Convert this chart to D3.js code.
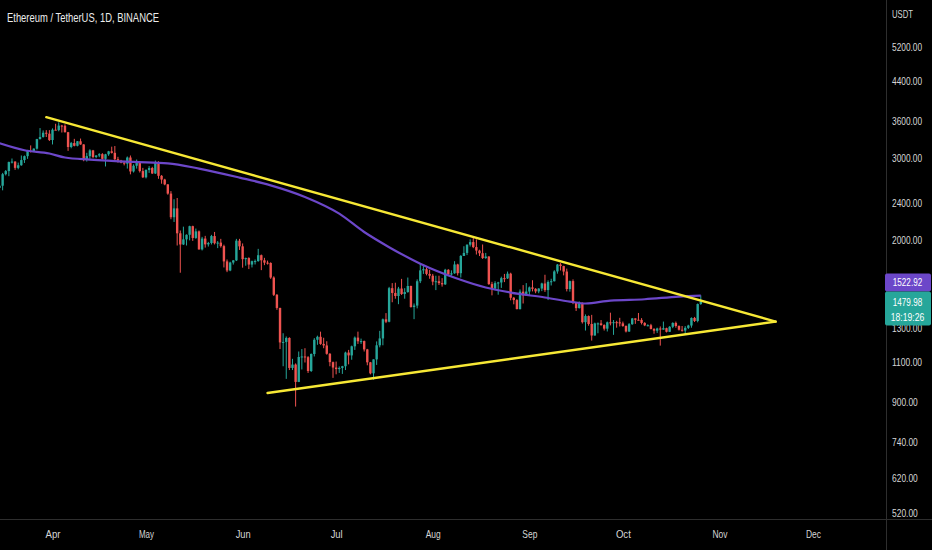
<!DOCTYPE html>
<html>
<head>
<meta charset="utf-8">
<script src="https://cdn.jsdelivr.net/npm/d3@7"></script>
<style>
body { margin: 0; background: #000; overflow: hidden; }
svg { display: block; }
</style>
</head>
<body>
<svg class="chart" width="932" height="550"></svg>
<script>

// daily candles ETH/USDT 2022, [day, open, high, low, close]
var mar = [
	[14,2517,2605,2505,2591],[15,2591,2655,2523,2619],[16,2619,2790,2560,2772],[17,2772,2830,2755,2815],
	[18,2815,2950,2745,2943],[19,2943,2995,2923,2950],[20,2950,2955,2832,2860],[21,2860,2935,2840,2897],
	[22,2897,3040,2890,2972],[23,2972,3040,2930,3030],[24,3030,3125,2990,3109],[25,3109,3195,3085,3107],
	[26,3107,3150,3100,3144],[27,3144,3300,3130,3296],[28,3296,3480,3290,3330],[29,3330,3440,3320,3401],
	[30,3401,3445,3330,3385],[31,3385,3445,3265,3281]
];
var apr = [
	[1,3281,3475,3210,3452],[2,3452,3555,3445,3445],[3,3445,3580,3425,3523],[4,3523,3535,3405,3520],
	[5,3520,3545,3405,3410],[6,3410,3415,3110,3170],[7,3170,3250,3150,3232],[8,3232,3300,3180,3189],
	[9,3189,3265,3180,3261],[10,3261,3305,3205,3210],[11,3210,3215,2955,2980],[12,2980,3080,2950,3030],
	[13,3030,3135,2990,3117],[14,3117,3125,3000,3018],[15,3018,3045,3000,3040],[16,3040,3075,3015,3060],
	[17,3060,3075,2980,2990],[18,2990,3065,2880,3058],[19,3058,3110,3035,3103],[20,3103,3175,3070,3080],
	[21,3080,3185,2945,2985],[22,2985,3020,2935,2965],[23,2965,2975,2925,2935],[24,2935,2960,2895,2920],
	[25,2920,3025,2850,3010],[26,3010,3040,2770,2810],[27,2810,2910,2795,2890],[28,2890,2980,2850,2935],
	[29,2935,2950,2795,2815],[30,2815,2860,2720,2730]
];
var may = [
	[1,2730,2840,2715,2830],[2,2830,2885,2790,2858],[3,2858,2875,2775,2782],[4,2782,2965,2775,2940],
	[5,2940,2955,2710,2750],[6,2750,2760,2645,2700],[7,2700,2710,2625,2636],[8,2636,2640,2505,2519],
	[9,2519,2550,2220,2242],[10,2242,2450,2190,2342],[11,2342,2465,1950,2071],[12,2071,2100,1705,1960],
	[13,1960,2140,1955,2010],[14,2010,2060,1950,2056],[15,2056,2150,2000,2145],[16,2145,2150,1995,2024],
	[17,2024,2120,2015,2091],[18,2091,2100,1910,1913],[19,1913,2035,1903,2018],[20,2018,2045,1930,1961],
	[21,1961,1985,1940,1974],[22,1974,2055,1960,2043],[23,2043,2085,1960,1972],[24,1972,1993,1925,1978],
	[25,1978,2015,1930,1944],[26,1944,1958,1750,1803],[27,1803,1820,1710,1724],[28,1724,1800,1718,1793],
	[29,1793,1815,1775,1812],[30,1812,2015,1806,1997],[31,1997,2015,1908,1942]
];
var jun = [
	[1,1942,1970,1748,1823],[2,1823,1837,1765,1833],[3,1833,1840,1736,1775],[4,1775,1810,1750,1805],
	[5,1805,1820,1776,1806],[6,1806,1918,1800,1859],[7,1859,1865,1727,1813],[8,1813,1835,1770,1792],
	[9,1792,1810,1775,1789],[10,1789,1795,1654,1665],[11,1665,1675,1520,1529],[12,1529,1535,1420,1433],
	[13,1433,1435,1170,1209],[14,1209,1265,1075,1212],[15,1212,1245,1010,1236],[16,1236,1240,1055,1066],
	[17,1066,1115,1055,1084],[18,1084,1090,881,995],[19,995,1156,994,1125],[20,1125,1170,1058,1128],
	[21,1128,1175,1095,1124],[22,1124,1130,1040,1050],[23,1050,1145,1045,1142],[24,1142,1235,1128,1225],
	[25,1225,1250,1195,1243],[26,1243,1275,1195,1200],[27,1200,1237,1175,1191],[28,1191,1216,1138,1143],
	[29,1143,1147,1075,1097],[30,1097,1100,1015,1068]
];
var jul = [
	[1,1068,1100,1033,1060],[2,1060,1074,1040,1066],[3,1066,1077,1035,1075],[4,1075,1155,1055,1150],
	[5,1150,1165,1085,1134],[6,1134,1190,1110,1186],[7,1186,1245,1165,1238],[8,1238,1275,1200,1216],
	[9,1216,1232,1200,1217],[10,1217,1220,1156,1168],[11,1168,1171,1080,1096],[12,1096,1098,1033,1038],
	[13,1038,1112,1006,1112],[14,1112,1215,1082,1192],[15,1192,1280,1180,1233],[16,1233,1360,1192,1355],
	[17,1355,1397,1330,1339],[18,1339,1590,1335,1580],[19,1580,1620,1474,1543],[20,1543,1623,1500,1520],
	[21,1520,1590,1460,1577],[22,1577,1654,1528,1535],[23,1535,1580,1500,1550],[24,1550,1665,1545,1597],
	[25,1597,1600,1435,1440],[26,1440,1465,1356,1450],[27,1450,1650,1430,1635],[28,1635,1787,1620,1725],
	[29,1725,1765,1695,1735],[30,1735,1750,1683,1695],[31,1695,1730,1655,1680]
];
var aug = [
	[1,1680,1695,1603,1632],[2,1632,1680,1565,1635],[3,1635,1680,1605,1620],[4,1620,1660,1592,1610],
	[5,1610,1738,1605,1730],[6,1730,1735,1690,1690],[7,1690,1725,1681,1700],[8,1700,1805,1696,1776],
	[9,1776,1782,1682,1701],[10,1701,1860,1665,1852],[11,1852,1943,1852,1880],[12,1880,1960,1860,1958],
	[13,1958,2010,1940,1983],[14,1983,2030,1925,1935],[15,1935,2010,1865,1902],[16,1902,1910,1851,1877],
	[17,1877,1960,1825,1833],[18,1833,1880,1826,1847],[19,1847,1850,1606,1612],[20,1612,1630,1525,1577],
	[21,1577,1635,1564,1620],[22,1620,1630,1530,1625],[23,1625,1672,1582,1660],[24,1660,1695,1628,1658],
	[25,1658,1715,1653,1697],[26,1697,1705,1488,1507],[27,1507,1513,1459,1490],[28,1490,1497,1423,1425],
	[29,1425,1570,1422,1553],[30,1553,1604,1465,1525],[31,1525,1620,1520,1554]
];
var sep = [
	[1,1554,1593,1528,1586],[2,1586,1643,1555,1575],[3,1575,1580,1541,1555],[4,1555,1580,1541,1577],
	[5,1577,1623,1557,1617],[6,1617,1688,1551,1565],[7,1565,1642,1490,1629],[8,1629,1655,1601,1635],
	[9,1635,1726,1633,1716],[10,1716,1780,1697,1775],[11,1775,1788,1724,1762],[12,1762,1765,1683,1715],
	[13,1715,1740,1555,1573],[14,1573,1640,1553,1636],[15,1636,1650,1460,1473],[16,1473,1475,1412,1432],
	[17,1432,1480,1429,1470],[18,1470,1472,1327,1336],[19,1336,1388,1282,1377],[20,1377,1381,1313,1324],
	[21,1324,1385,1220,1251],[22,1251,1333,1250,1328],[23,1328,1334,1265,1328],[24,1328,1350,1313,1317],
	[25,1317,1322,1282,1294],[26,1294,1340,1276,1335],[27,1335,1400,1315,1330],[28,1330,1350,1255,1336],
	[29,1336,1345,1300,1335],[30,1335,1365,1308,1328]
];
var oct = [
	[1,1328,1340,1306,1311],[2,1311,1315,1270,1276],[3,1276,1330,1273,1323],[4,1323,1364,1318,1361],
	[5,1361,1362,1325,1352],[6,1352,1398,1348,1351],[7,1351,1363,1321,1331],[8,1331,1336,1310,1315],
	[9,1315,1322,1309,1316],[10,1316,1325,1289,1292],[11,1292,1297,1262,1281],[12,1281,1300,1267,1295],
	[13,1295,1308,1190,1288],[14,1288,1340,1287,1297],[15,1297,1300,1270,1274],[16,1274,1310,1273,1306],
	[17,1306,1335,1297,1331],[18,1331,1340,1300,1311],[19,1311,1315,1282,1287],[20,1287,1311,1275,1282],
	[21,1282,1310,1255,1299],[22,1299,1319,1292,1314],[23,1314,1368,1300,1364],[24,1364,1371,1337,1344],
	[25,1344,1465,1335,1461],[26,1461,1525,1455,1480]
];

// moving average (purple)
var maDates = ["2022-03-14","2022-03-23","2022-03-31","2022-04-05","2022-04-13","2022-04-27","2022-05-08",
	"2022-05-18","2022-05-31","2022-06-10","2022-06-21","2022-07-02","2022-07-10","2022-07-18","2022-07-28",
	"2022-08-09","2022-08-18","2022-08-26","2022-09-06","2022-09-14","2022-09-19","2022-09-27","2022-10-08",
	"2022-10-19","2022-10-26"];
var maValues = [3245,3120,3070,3010,2980,2945,2925,2850,2726,2624,2478,2282,2084,1934,1783,
	1655,1585,1546,1509,1479,1465,1486,1496,1516,1523];

// triangle
var upperLine = [["2022-03-30", 3672], ["2022-11-19", 1340]];
var lowerLine = [["2022-06-09", 942], ["2022-11-19", 1340]];

var priceTicks = [520, 620, 740, 900, 1100, 1300, 2000, 2400, 3000, 3600, 4400, 5200];
var monthDates = ["2022-04-01","2022-05-01","2022-06-01","2022-07-01","2022-08-01","2022-09-01","2022-10-01","2022-11-01","2022-12-01"];
var monthNames = ["Apr","May","Jun","Jul","Aug","Sep","Oct","Nov","Dec"];

var title = "Ethereum / TetherUS, 1D, BINANCE";
var lastPrice = 1479.98;
var maLast = 1522.92;
var countdown = "18:19:26";

var parse = d3.utcParse("%Y-%m-%d");
var svgWidth = 932;
var svgHeight = 550;
var plotW = 886;
var plotH = 519;

var GREEN = "#26a69a";
var RED = "#ef5350";
var PURPLE = "#6c47c9";
var YELLOW = "#f7e835";
var TEXT = "#d6d6d6";
var FONT = "'Liberation Sans', 'DejaVu Sans', sans-serif";

var candles = [];
[[2, mar], [3, apr], [4, may], [5, jun], [6, jul], [7, aug], [8, sep], [9, oct]].forEach(function(m){
	m[1].forEach(function(r){
		candles.push({date: new Date(Date.UTC(2022, m[0], r[0])), o: r[1], h: r[2], l: r[3], c: r[4]});
	});
});

var x = d3.scaleUtc()
	.domain([parse("2022-04-01"), parse("2022-12-01")])
	.range([52.5, 813]);
x.domain([x.invert(0), x.invert(plotW)]).range([0, plotW]);

var y = d3.scaleLog()
	.domain([506, 6546])
	.range([plotH, 0]);

var svg = d3.select(".chart");

svg.append("rect")
	.attr("width", svgWidth)
	.attr("height", svgHeight)
	.style("fill", "#000");

svg.append("defs").append("clipPath")
	.attr("id", "plot")
	.append("rect")
	.attr("width", plotW)
	.attr("height", plotH);

var plot = svg.append("g").attr("clip-path", "url(#plot)");

// wicks
plot.selectAll("line.wick")
	.data(candles)
	.enter()
	.append("line")
	.attr("class", "wick")
	.attr("x1", function(d){ return x(d.date); })
	.attr("x2", function(d){ return x(d.date); })
	.attr("y1", function(d){ return y(d.h); })
	.attr("y2", function(d){ return y(d.l); })
	.style("stroke", function(d){ return d.c >= d.o ? GREEN : RED; })
	.style("stroke-width", 1);

// bodies
var bodyW = 2.4;
plot.selectAll("rect.body")
	.data(candles)
	.enter()
	.append("rect")
	.attr("class", "body")
	.attr("x", function(d){ return x(d.date) - bodyW/2; })
	.attr("y", function(d){ return y(Math.max(d.o, d.c)); })
	.attr("width", bodyW)
	.attr("height", function(d){ return Math.max(1, Math.abs(y(d.o) - y(d.c))); })
	.style("fill", function(d){ return d.c >= d.o ? GREEN : RED; });

// moving average
var maPoints = maDates.map(function(d, i){ return [parse(d), maValues[i]]; });
plot.append("path")
	.datum(maPoints)
	.attr("d", d3.line()
		.x(function(d){ return x(d[0]); })
		.y(function(d){ return y(d[1]); })
		.curve(d3.curveMonotoneX))
	.style("fill", "none")
	.style("stroke", PURPLE)
	.style("stroke-width", 2.2);

// triangle lines
[upperLine, lowerLine].forEach(function(seg){
	plot.append("line")
		.attr("x1", x(parse(seg[0][0])))
		.attr("y1", y(seg[0][1]))
		.attr("x2", x(parse(seg[1][0])))
		.attr("y2", y(seg[1][1]))
		.style("stroke", YELLOW)
		.style("stroke-width", 2.4)
		.style("stroke-linecap", "round");
});

// title
svg.append("text")
	.attr("x", 7)
	.attr("y", 22)
	.attr("textLength", 152)
	.attr("lengthAdjust", "spacingAndGlyphs")
	.text(title)
	.style("fill", "#ececec")
	.style("font-family", FONT)
	.style("font-size", "12.5px");

// price axis
var yAxis = svg.append("g")
	.attr("transform", "translate(" + plotW + ",0)")
	.call(d3.axisRight(y)
		.tickValues(priceTicks)
		.tickFormat(d3.format(".2f"))
		.tickSize(0)
		.tickPadding(6));
yAxis.select(".domain").remove();
yAxis.selectAll("text")
	.attr("textLength", function(d){ return d3.format(".2f")(d).length * 4.3; })
	.attr("lengthAdjust", "spacingAndGlyphs")
	.style("fill", TEXT)
	.style("font-family", FONT)
	.style("font-size", "11px");

svg.append("text")
	.attr("x", 892)
	.attr("y", 18)
	.attr("textLength", 21)
	.attr("lengthAdjust", "spacingAndGlyphs")
	.text("USDT")
	.style("fill", TEXT)
	.style("font-family", FONT)
	.style("font-size", "11px");

// time axis
svg.append("rect")
	.attr("y", plotH)
	.attr("width", svgWidth)
	.attr("height", svgHeight - plotH)
	.style("fill", "#000");

var xAxis = svg.append("g")
	.attr("transform", "translate(0," + plotH + ")")
	.call(d3.axisBottom(x)
		.tickValues(monthDates.map(parse))
		.tickFormat(function(d, i){ return monthNames[i]; })
		.tickSize(0)
		.tickPadding(11));
xAxis.select(".domain").remove();
xAxis.selectAll("text")
	.attr("textLength", function(d, i){ return monthNames[i] == "Jul" ? 12 : 15; })
	.attr("lengthAdjust", "spacingAndGlyphs")
	.style("fill", TEXT)
	.style("font-family", FONT)
	.style("font-size", "11px");

// separators
svg.append("line")
	.attr("x1", 0).attr("x2", svgWidth)
	.attr("y1", plotH + 0.5).attr("y2", plotH + 0.5)
	.style("stroke", "#2e2e2e");
svg.append("line")
	.attr("x1", plotW + 0.5).attr("x2", plotW + 0.5)
	.attr("y1", 0).attr("y2", svgHeight)
	.style("stroke", "#2e2e2e");

// last price + ma labels
var greenTop = y(lastPrice) - 10;
var purpleTop = greenTop - 18;

svg.append("rect")
	.attr("x", 885).attr("y", purpleTop)
	.attr("width", 46).attr("height", 18)
	.attr("rx", 2)
	.style("fill", PURPLE);
svg.append("rect")
	.attr("x", 885).attr("y", greenTop)
	.attr("width", 46).attr("height", 34)
	.attr("rx", 2)
	.style("fill", GREEN);

var tags = [
	{t: d3.format(".2f")(maLast), y: purpleTop + 9},
	{t: d3.format(".2f")(lastPrice), y: greenTop + 11},
	{t: countdown, y: greenTop + 26}
];
svg.selectAll("text.tag")
	.data(tags)
	.enter()
	.append("text")
	.attr("class", "tag")
	.attr("x", 907.5)
	.attr("y", function(d){ return d.y; })
	.attr("dy", "0.35em")
	.attr("text-anchor", "middle")
	.attr("textLength", function(d){ return d.t.length * 4.2; })
	.attr("lengthAdjust", "spacingAndGlyphs")
	.text(function(d){ return d.t; })
	.style("fill", "#fff")
	.style("font-family", FONT)
	.style("font-size", "10.5px");

</script>
</body>
</html>
